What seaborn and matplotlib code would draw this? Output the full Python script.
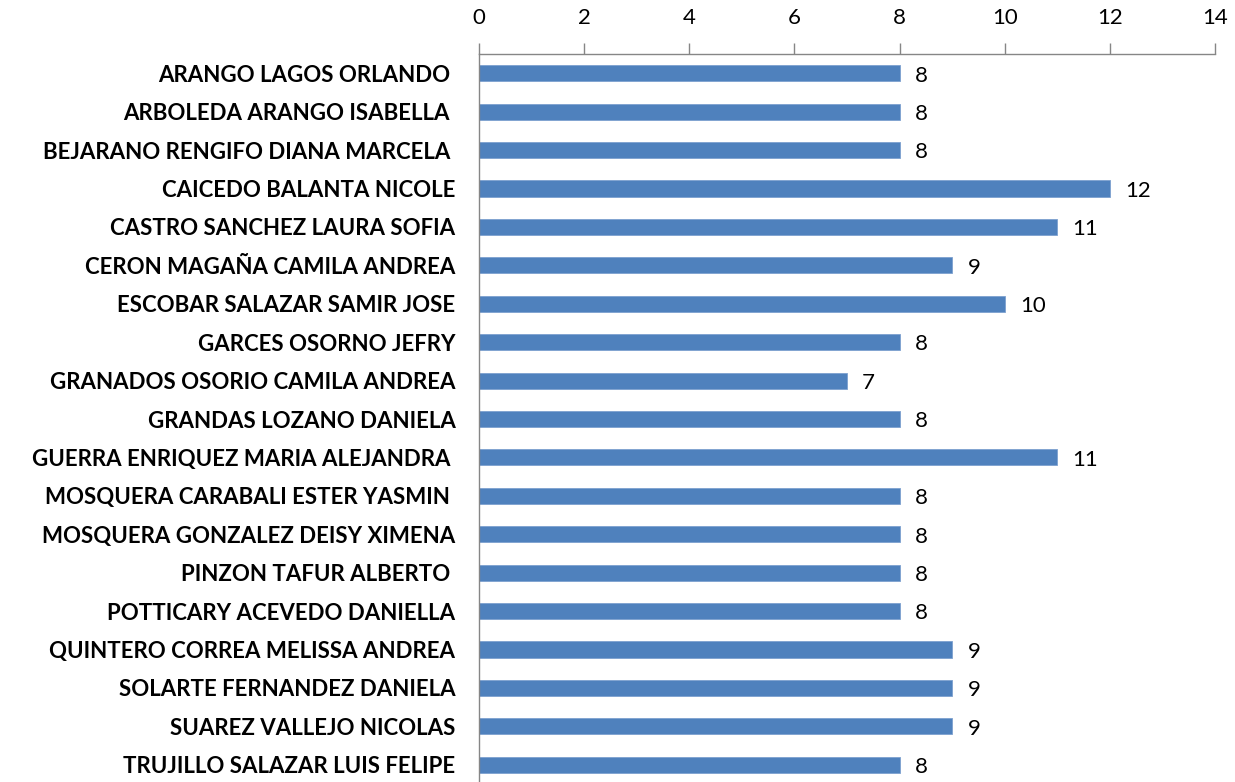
import matplotlib
matplotlib.use("Agg")
import matplotlib.pyplot as plt
import seaborn as sns
import pandas as pd

# Data
names = [
    "ARANGO LAGOS ORLANDO ",
    "ARBOLEDA ARANGO ISABELLA ",
    "BEJARANO RENGIFO DIANA MARCELA ",
    "CAICEDO BALANTA NICOLE",
    "CASTRO SANCHEZ LAURA SOFIA",
    "CERON MAGAÑA CAMILA ANDREA",
    "ESCOBAR SALAZAR SAMIR JOSE",
    "GARCES OSORNO JEFRY",
    "GRANADOS OSORIO CAMILA ANDREA",
    "GRANDAS LOZANO DANIELA",
    "GUERRA ENRIQUEZ MARIA ALEJANDRA ",
    "MOSQUERA CARABALI ESTER YASMIN ",
    "MOSQUERA GONZALEZ DEISY XIMENA",
    "PINZON TAFUR ALBERTO ",
    "POTTICARY ACEVEDO DANIELLA",
    "QUINTERO CORREA MELISSA ANDREA",
    "SOLARTE FERNANDEZ DANIELA",
    "SUAREZ VALLEJO NICOLAS",
    "TRUJILLO SALAZAR LUIS FELIPE",
]
values = [8, 8, 8, 12, 11, 9, 10, 8, 7, 8, 11, 8, 8, 8, 8, 9, 9, 9, 8]
x_ticks = [0, 2, 4, 6, 8, 10, 12, 14]

df = pd.DataFrame({"name": names, "value": values})

sns.set_style("white")
plt.rcParams["font.family"] = ["Lato", "DejaVu Sans"]
plt.rcParams["text.color"] = "black"
plt.rcParams["xtick.labelcolor"] = "black"
plt.rcParams["ytick.labelcolor"] = "black"

fig = plt.figure(figsize=(12.35, 7.82), dpi=100)
ax = fig.add_axes([479 / 1235, -2 / 782, 736 / 1235, 730 / 782])

sns.barplot(data=df, x="value", y="name", orient="h", color="#4F81BD",
            saturation=1, width=0.42, edgecolor="#7DA0CF", linewidth=0.6, ax=ax)

# value labels at the end of each bar
for i, v in enumerate(values):
    ax.text(v + 0.29, i + 0.06, str(v), va="center", ha="left", fontsize=16, color="black")

ax.set_xlim(0, 14)
ax.set_ylim(len(names) - 0.5, -0.5)
ax.set_xticks(x_ticks)
ax.xaxis.tick_top()
ax.tick_params(axis="x", direction="out", length=8, width=1, color="#868686",
               labelcolor="black", labelsize=16, pad=11)
ax.set_yticks(range(len(names)))
ax.set_yticklabels(names, fontweight="bold", fontsize=16, color="black")
ax.tick_params(axis="y", length=0, pad=17)
# boundary ticks between categories
ax.set_yticks([i - 0.5 for i in range(len(names) + 1)], minor=True)
ax.tick_params(axis="y", which="minor", direction="out", length=7, width=1, color="#868686")
ax.set_xlabel("")
ax.set_ylabel("")

for side in ["right", "bottom"]:
    ax.spines[side].set_visible(False)
for side in ["top", "left"]:
    ax.spines[side].set_color("#868686")
    ax.spines[side].set_linewidth(1)

fig.savefig("out.png", dpi=100)
